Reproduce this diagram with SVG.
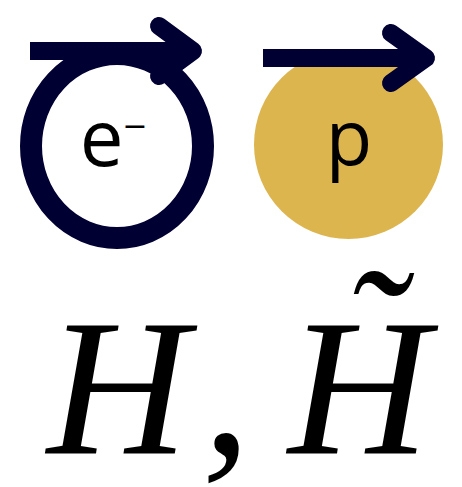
<svg xmlns="http://www.w3.org/2000/svg" width="462" height="487" viewBox="0 0 462 487">
<style>
.arrow{fill:none;stroke:#000033;stroke-width:18;stroke-linejoin:round}
.lbl{font-family:"Open Sans","Noto Sans",sans-serif;fill:#000}
.math{font-family:"Liberation Serif",serif;font-style:italic;font-size:196px;fill:#000}
</style>
<rect width="462" height="487" fill="#fff"/>
<g id="electron">
<ellipse cx="117" cy="146" rx="86" ry="92" fill="none" stroke="#000033" stroke-width="22"/>
<text class="lbl" x="113" y="166" font-size="78" text-anchor="middle">e<tspan font-size="40" dy="-25">−</tspan></text>
</g>
<g id="proton">
<circle cx="348.5" cy="144.5" r="94.5" fill="#DDB54F"/>
<text class="lbl" x="349" y="165" font-size="76" text-anchor="middle">p</text>
</g>
<g id="connectors">
<path class="arrow" d="M30,51 H193"/>
<path class="arrow" d="M159,26 L193,51 L159,76" stroke-linecap="round"/>
<path class="arrow" d="M263,58 H426"/>
<path class="arrow" d="M391,33 L426,58 L391,83" stroke-linecap="round"/>
</g>
<g id="label">
<text class="math" x="47" y="453">H</text>
<text class="math" x="202" y="453">,</text>
<text class="math" x="288" y="453">H</text>
<text class="math" x="343" y="403" font-style="normal" font-size="220" textLength="60" lengthAdjust="spacingAndGlyphs">˜</text>
</g>
</svg>
